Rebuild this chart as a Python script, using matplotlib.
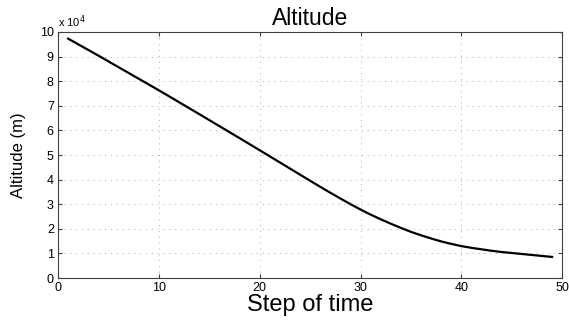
import matplotlib
matplotlib.use("Agg")
import matplotlib.pyplot as plt
from matplotlib.ticker import FuncFormatter

plt.rcParams['font.family'] = ['Liberation Sans', 'DejaVu Sans']

steps = list(range(1, 50))
altitude = [97300, 95000, 92700, 90400, 88050, 85700, 83350, 81000, 78650, 76300,
            73900, 71480, 69060, 66640, 64200, 61760, 59320, 56880, 54420, 51950,
            49480, 47000, 44520, 42040, 39560, 37100, 34700, 32350, 30050, 27850,
            25800, 23900, 22100, 20400, 18800, 17400, 16100, 14900, 13900, 13000,
            12300, 11700, 11100, 10600, 10200, 9800, 9400, 9000, 8600]
x_ticks = [0, 10, 20, 30, 40, 50]
y_ticks = [i * 10000 for i in range(11)]

fig = plt.figure(figsize=(5.69, 3.23), dpi=100)
ax = fig.add_axes([0.102, 0.139, 0.886, 0.762])
ax.plot(steps, altitude, color='black', linewidth=1.6)
ax.set_xlim(0, 50)
ax.set_ylim(0, 100000)
ax.set_xticks(x_ticks)
ax.set_yticks(y_ticks)
ax.yaxis.set_major_formatter(FuncFormatter(lambda v, p: f"{v/1e4:g}"))
ax.tick_params(direction='in', top=True, right=True, labelsize=9, length=3,
               color='#404040', pad=3)
for s in ax.spines.values():
    s.set_color('#404040')
    s.set_linewidth(0.8)
ax.grid(True, linestyle=(0, (1, 5)), color='#aaaaaa', linewidth=0.7)
ax.set_title('Altitude', fontsize=16.5, pad=5)
ax.set_xlabel('Step of time', fontsize=17, labelpad=0)
ax.set_ylabel('Altitude (m)', fontsize=12, labelpad=10)
ax.text(0.0, 1.01, r'x 10$^4$', transform=ax.transAxes, fontsize=8,
        ha='left', va='bottom')
fig.savefig('out.png', dpi=100)
